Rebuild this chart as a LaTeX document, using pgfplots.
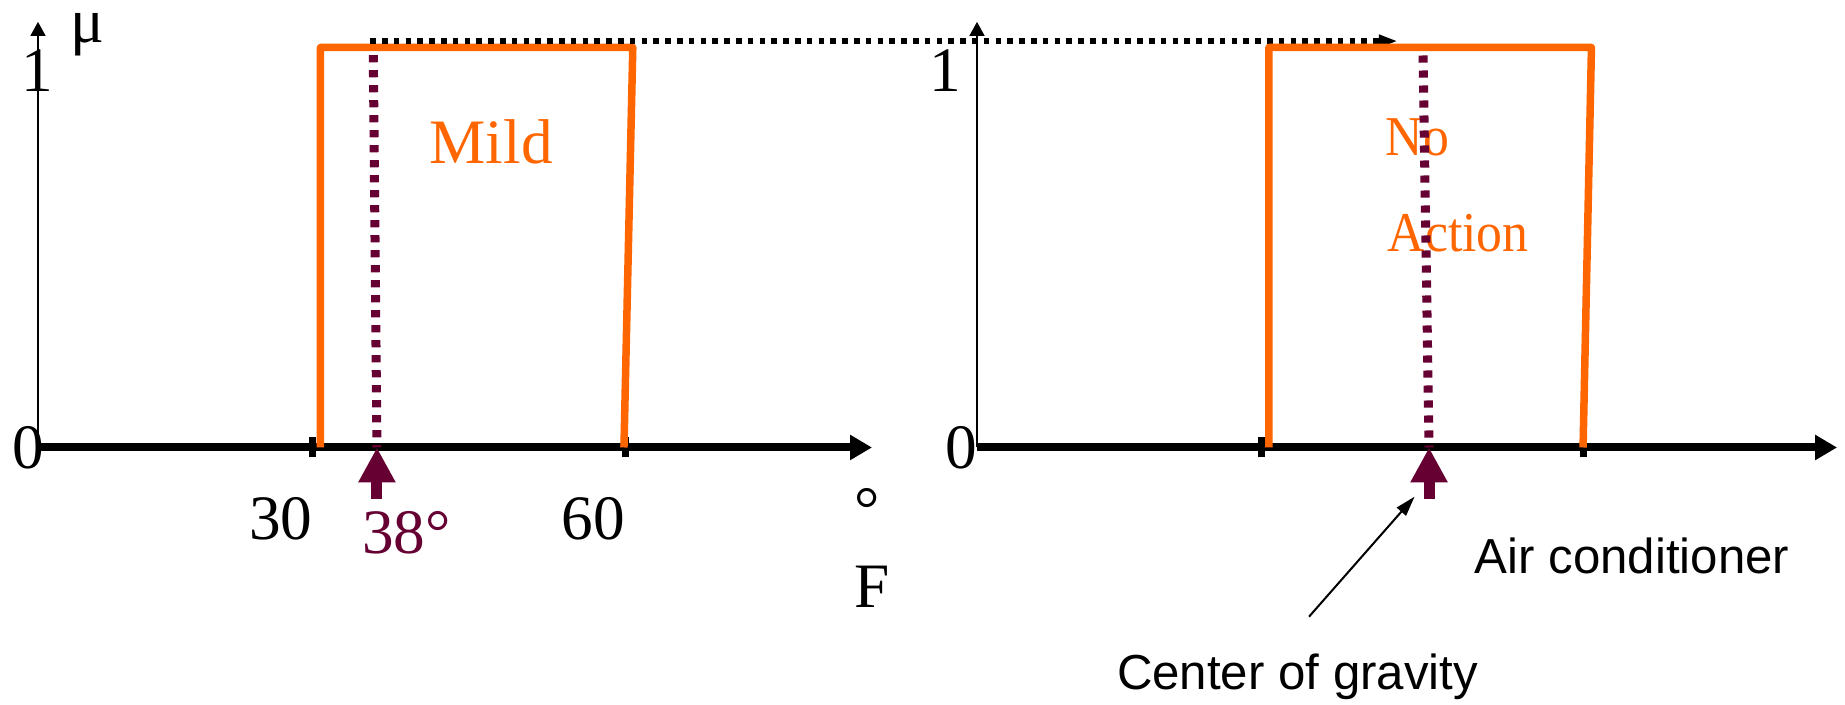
\documentclass[border=0pt]{standalone}
\usepackage{fontspec}
\setmainfont{Liberation Serif}
\newfontfamily\sansfont{Liberation Sans}
\usepackage{pgfplots}
\pgfplotsset{compat=1.18}
\usetikzlibrary{arrows.meta}
\definecolor{morange}{HTML}{FF6600}
\definecolor{maroonc}{HTML}{660033}
\newcommand{\bigfont}{\fontsize{18}{21}\selectfont}
\begin{document}
\begin{tikzpicture}
\useasboundingbox (0,0) rectangle (18.45,7.05);
\pgfplotsset{
  fz/.style={
    axis lines=left, clip=false, scale only axis,
    y=4cm, ymin=0, ymax=1.064, ytick=\empty,
    every outer x axis line/.append style={line width=0.08cm, black, -{Triangle[length=0.22cm,width=0.24cm]}},
    every outer y axis line/.append style={line width=0.015cm, black, -{Triangle[length=0.14cm,width=0.15cm]}},
    major tick length=0.2cm, tick align=center,
    xtick style={line width=0.07cm, black},
    xticklabel style={anchor=base, inner sep=0pt, yshift=-0.825cm, xshift=-0.32cm, font=\bigfont},
    anchor=south west,
  },
}
% ---------------- left panel: temperature ----------------
\begin{axis}[fz, at={(0.38cm,2.575cm)}, x=0.104cm, xmin=3.56, xmax=83.75,
  xtick={30,60}, xticklabels={30,60}]
  % Mild membership function
  \addplot[morange, line width=0.075cm, line join=round] coordinates {(30.72,0) (30.72,1) (60.75,1) (59.9,0)};
  % projection of the membership value
  \addplot[black, line width=0.056cm, dash pattern=on 0.056cm off 0.062cm,
    -{Triangle[length=0.19cm,width=0.12cm]}] coordinates {(35.5,1.016) (134.3,1.016)};
  % crisp input 38 F
  \addplot[maroonc, line width=0.09cm, dash pattern=on 0.072cm off 0.078cm] coordinates {(35.8,0.981) (36.15,0)};
  \addplot[maroonc, line width=0.11cm, -{Triangle[length=0.35cm,width=0.35cm]}] coordinates {(36.15,-0.129) (36.15,0)};
  \node[font=\bigfont, anchor=base, inner sep=0pt] at (axis cs:3.51,0.889) {1};
  \node[font=\bigfont, anchor=center, inner sep=0pt] at (axis cs:2.6,0) {0};
  \node[font=\bigfont, anchor=base, inner sep=0pt] at (axis cs:8.27,1.012) {μ};
  \node[font=\bigfont, anchor=base west, inner sep=0pt, text=morange] at (axis cs:41.15,0.709) {Mild};
  \node[font=\bigfont, anchor=base west, inner sep=0pt, text=maroonc] at (axis cs:34.65,-0.264) {38°};
  \node[font=\bigfont, anchor=north, inner sep=0pt] at (axis cs:83.3,-0.101) {°};
  \node[font=\bigfont, anchor=base, inner sep=0pt] at (axis cs:83.8,-0.399) {F};
\end{axis}
% ---------------- right panel: air conditioner ----------------
\begin{axis}[fz, at={(9.77cm,2.575cm)}, x=0.1cm, xmin=0, xmax=86,
  xtick={28.47,60.6}, xticklabels={,}]
  \node[font=\fontsize{16}{19}\selectfont, anchor=base west, inner sep=0pt, text=morange] at (axis cs:40.8,0.731) {\scalebox{0.92}[1]{No}};
  \node[font=\fontsize{16}{19}\selectfont, anchor=base west, inner sep=0pt, text=morange] at (axis cs:41.0,0.489) {\scalebox{0.92}[1]{Action}};
  % No Action membership function
  \addplot[morange, line width=0.075cm, line join=round] coordinates {(29.19,0) (29.19,1) (61.44,1) (60.6,0)};
  % centre of gravity
  \addplot[maroonc, line width=0.09cm, dash pattern=on 0.072cm off 0.078cm] coordinates {(44.6,0.98) (45.2,0)};
  \addplot[maroonc, line width=0.11cm, -{Triangle[length=0.35cm,width=0.35cm]}] coordinates {(45.2,-0.129) (45.2,0)};
  \addplot[black, line width=0.02cm, -{Triangle[length=0.2cm,width=0.12cm]}] coordinates {(33.2,-0.423) (43.75,-0.123)};
  \node[font=\bigfont, anchor=base east, inner sep=0pt] at (axis cs:-1.5,0.889) {1};
  \node[font=\bigfont, anchor=east, inner sep=0pt] at (axis cs:0.1,0) {0};
  \node[font=\sansfont\fontsize{14}{17}\selectfont, anchor=base, inner sep=0pt] at (axis cs:65.5,-0.314) {Air conditioner};
  \node[font=\sansfont\fontsize{14}{17}\selectfont, anchor=base, inner sep=0pt] at (axis cs:32.05,-0.606) {Center of gravity};
\end{axis}
\end{tikzpicture}
\end{document}
